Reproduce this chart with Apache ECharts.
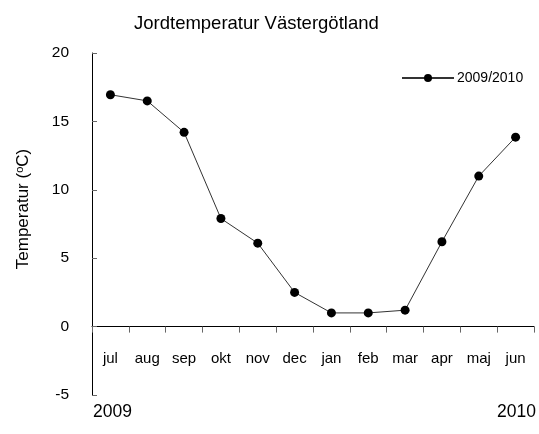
<!DOCTYPE html>
<html>
<head>
    <meta charset="utf-8">
    <title>Jordtemperatur</title>
    <script src="https://cdn.jsdelivr.net/npm/echarts@6/dist/echarts.min.js"></script>
    <style>
        *{margin: 0;padding: 0;}
        body{background: #fff;}
    </style>
</head>
<body>
    <div id="main" style="width: 539px;height:434px;"></div>
    <script type="text/javascript">
        var months = ['jul', 'aug', 'sep', 'okt', 'nov', 'dec', 'jan', 'feb', 'mar', 'apr', 'maj', 'jun'];
        var temps = [16.95, 16.5, 14.2, 7.9, 6.1, 2.5, 1.0, 1.0, 1.2, 6.2, 11.0, 13.85];
        var seriesName = '2009/2010';
        var yearLabels = ['2009', '2010'];

        var font = '"Liberation Sans", Arial, sans-serif';

        var myChart = echarts.init(document.getElementById('main'));

        var option = {
            backgroundColor: '#fff',
            animation: false,
            textStyle: { fontFamily: font },
            title: {
                text: 'Jordtemperatur Västergötland',
                left: 129,
                top: 9,
                textStyle: { fontSize: 18.5, fontWeight: 'normal', color: '#000', fontFamily: font }
            },
            legend: {
                data: [seriesName],
                left: 396,
                top: 66,
                itemWidth: 52,
                itemHeight: 10,
                itemGap: 5,
                textStyle: { fontSize: 14, color: '#000', fontFamily: font, padding: [0, 0, 0, -2] }
            },
            grid: { left: 92, right: 5, top: 53, bottom: 39 },
            xAxis: {
                type: 'category',
                data: months,
                boundaryGap: true,
                position: 'bottom',
                // move the axis up to the zero line (25 units span, 5 below zero)
                offset: -342 * 5 / 25,
                axisLine: { onZero: false, lineStyle: { color: '#000', width: 1 } },
                axisTick: { show: true, alignWithLabel: false, length: 6, lineStyle: { color: '#666', width: 1 } },
                axisLabel: { color: '#000', fontSize: 15, margin: 25, fontFamily: font }
            },
            yAxis: {
                type: 'value',
                min: -5,
                max: 20,
                interval: 5,
                splitLine: { show: false },
                axisLine: { show: true, lineStyle: { color: '#000', width: 1 } },
                axisTick: { show: true, inside: true, length: 5, lineStyle: { color: '#666', width: 1 } },
                axisLabel: { color: '#000', fontSize: 15.5, margin: 23, fontFamily: font }
            },
            graphic: [
                {
                    type: 'text',
                    x: 23, y: 209,
                    rotation: Math.PI / 2,
                    style: {
                        text: 'Temperatur ({s|o}C)',
                        align: 'center', verticalAlign: 'middle',
                        fill: '#000', fontSize: 17, fontFamily: font,
                        rich: { s: { fontSize: 11, verticalAlign: 'top', padding: [0, 0, 7, 0], fontFamily: font } }
                    }
                },
                {
                    type: 'text', x: 93, y: 412,
                    style: { text: yearLabels[0], fill: '#000', fontSize: 17.5, fontFamily: font, verticalAlign: 'middle' }
                },
                {
                    type: 'text', x: 536, y: 412,
                    style: { text: yearLabels[1], fill: '#000', fontSize: 17.5, fontFamily: font, align: 'right', verticalAlign: 'middle' }
                }
            ],
            series: [{
                name: seriesName,
                type: 'line',
                data: temps,
                symbol: 'circle',
                symbolSize: 9,
                itemStyle: { color: '#000' },
                lineStyle: { color: '#333', width: 1 }
            }]
        };

        myChart.setOption(option);
    </script>
</body>
</html>
